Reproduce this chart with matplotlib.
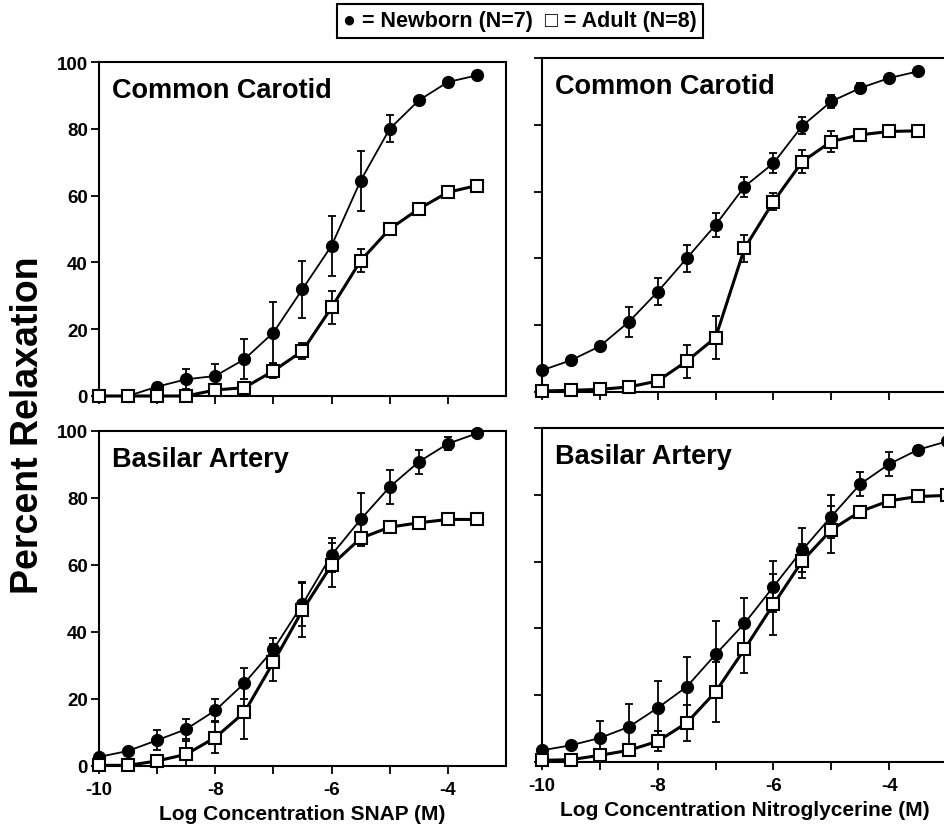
import matplotlib
matplotlib.use('Agg')
import matplotlib.pyplot as plt

plt.rcParams['font.family'] = ['Liberation Sans', 'DejaVu Sans']
plt.rcParams['font.weight'] = 'bold'
plt.rcParams['axes.unicode_minus'] = False

# log concentration (M)
log_conc = [-10.0, -9.5, -9.0, -8.5, -8.0, -7.5, -7.0, -6.5, -6.0, -5.5, -5.0, -4.5, -4.0, -3.5]
log_conc_ntg_bas = [-10.0, -9.5, -9.0, -8.5, -8.0, -7.5, -7.0, -6.5, -6.0, -5.5, -5.0, -4.5, -4.0, -3.5, -3.0]

# SNAP - common carotid
snap_car_nb = [0, 0, 2.8, 5, 6, 11, 19, 32, 45, 64.5, 80, 88.5, 94, 96]
snap_car_nb_err = [0.5, 0.5, 1, 3, 3.5, 6, 9, 8.5, 9, 9, 4, 1, 1, 1]
snap_car_ad = [0, 0, 0, 0, 1.8, 2.5, 7.5, 13.5, 26.5, 40.5, 50, 56, 61, 63]
snap_car_ad_err = [0.5, 0.5, 0.5, 0.5, 0.5, 0.5, 2, 2.5, 5, 3.5, 1.5, 1.5, 1, 1]

# nitroglycerine - common carotid
ntg_car_nb = [6.5, 9.5, 13.7, 21, 30, 40, 50, 61.5, 68.5, 79.7, 87, 91, 94, 96]
ntg_car_nb_err = [1, 1, 1, 4.5, 4, 4, 3.5, 3, 3, 2.5, 2, 1.5, 1, 1]
ntg_car_ad = [0.3, 0.5, 0.8, 1.5, 3.3, 9.2, 16.3, 43, 57, 69, 75, 77, 78, 78.2]
ntg_car_ad_err = [0.5, 0.5, 0.5, 0.5, 1, 5, 6.5, 4, 2.5, 3.5, 3, 1, 1, 1]

# SNAP - basilar artery
snap_bas_nb = [2.7, 4.5, 7.7, 11, 16.6, 24.7, 34.8, 48.3, 63, 73.6, 83.3, 90.8, 96.2, 99.3]
snap_bas_nb_err = [1, 1, 3, 3, 3.3, 4.7, 3.5, 6.5, 5, 8, 5, 3.5, 2, 1]
snap_bas_ad = [0.2, 0.2, 1.5, 3.5, 8.5, 16, 31, 46.5, 60, 68, 71.3, 72.6, 73.6, 73.6]
snap_bas_ad_err = [0.5, 0.5, 0.5, 4, 4.5, 8, 5.5, 8, 6.5, 2, 1, 1, 1, 1]

# nitroglycerine - basilar artery
ntg_bas_nb = [3.5, 5, 7.2, 10.5, 16.2, 22.5, 32.2, 41.5, 52.5, 63.5, 73.5, 83.2, 89.2, 93.5, 96]
ntg_bas_nb_err = [1, 1, 5, 7, 8, 9, 10, 7.5, 7.7, 6.7, 6.3, 3.6, 3.5, 1, 1]
ntg_bas_ad = [0.5, 0.7, 2, 3.5, 6.2, 11.7, 21, 33.8, 47.2, 60.2, 69.5, 75, 78.2, 79.5, 79.8]
ntg_bas_ad_err = [0.5, 0.5, 0.5, 1, 3, 5.5, 9, 7.3, 9.2, 5, 7, 1, 1, 1, 1]

W, H = 945, 828
fig = plt.figure(figsize=(W / 100, H / 100), dpi=100)


def px_axes(x0, x1, ytop, ybot):
    return fig.add_axes([x0 / W, 1 - ybot / H, (x1 - x0) / W, (ybot - ytop) / H])


panels = [
    (px_axes(99, 506, 63, 397), log_conc, snap_car_nb, snap_car_nb_err, snap_car_ad, snap_car_ad_err,
     'Common Carotid', None, True),
    (px_axes(542, 947, 59, 393), log_conc, ntg_car_nb, ntg_car_nb_err, ntg_car_ad, ntg_car_ad_err,
     'Common Carotid', None, False),
    (px_axes(99, 506, 432, 767), log_conc, snap_bas_nb, snap_bas_nb_err, snap_bas_ad, snap_bas_ad_err,
     'Basilar Artery', 'Log Concentration SNAP (M)', True),
    (px_axes(542, 947, 429, 763), log_conc_ntg_bas, ntg_bas_nb, ntg_bas_nb_err, ntg_bas_ad, ntg_bas_ad_err,
     'Basilar Artery', 'Log Concentration Nitroglycerine (M)', False),
]

for ax, x, nb, nb_err, ad, ad_err, title, xlabel, left in panels:
    # newborn
    ax.errorbar(x, nb, yerr=nb_err, fmt='none', ecolor='black', elinewidth=1.3,
                capsize=3, capthick=1.3, zorder=2)
    ax.plot(x, nb, '-o', color='black', lw=1.3, ms=8.5, clip_on=False, zorder=3)
    # adult
    ax.errorbar(x, ad, yerr=ad_err, fmt='none', ecolor='black', elinewidth=1.3,
                capsize=3, capthick=1.3, zorder=4)
    ax.plot(x, ad, '-s', color='black', lw=2.2, ms=8, mfc='white', mec='black',
            mew=1.5, clip_on=False, zorder=5)

    ax.set_xlim(-10, -3)
    ax.set_ylim(0, 100)
    ax.set_xticks([-10, -8, -6, -4])
    ax.set_xticks([-9, -7, -5], minor=True)
    ax.set_yticks([0, 20, 40, 60, 80, 100])
    ax.tick_params(which='both', direction='out', length=6, width=1.3,
                   labelsize=13.5, pad=2)
    ax.tick_params(axis='x', pad=5)
    if xlabel is None:
        ax.tick_params(labelbottom=False)
    else:
        ax.set_xlabel(xlabel, fontsize=15, fontweight='bold', labelpad=4)
    if not left:
        ax.tick_params(labelleft=False)
    for s in ax.spines.values():
        s.set_linewidth(1.5)
    ax.text(0.033, 0.915, title, transform=ax.transAxes, fontsize=19.5,
            fontweight='bold', va='center', ha='left')

fig.text(28 / W, 1 - 425 / H, 'Percent Relaxation', rotation=90, fontsize=27,
         fontweight='bold', ha='center', va='center')

fig.text(520 / W, 1 - 22 / H, '\u25cf = Newborn (N=7)  \u25a1 = Adult (N=8)',
         fontsize=15.5, fontweight='bold', ha='center', va='center',
         bbox=dict(boxstyle='square,pad=0.3', fc='white', ec='black', lw=1.5))

fig.savefig('out.png', dpi=100)
